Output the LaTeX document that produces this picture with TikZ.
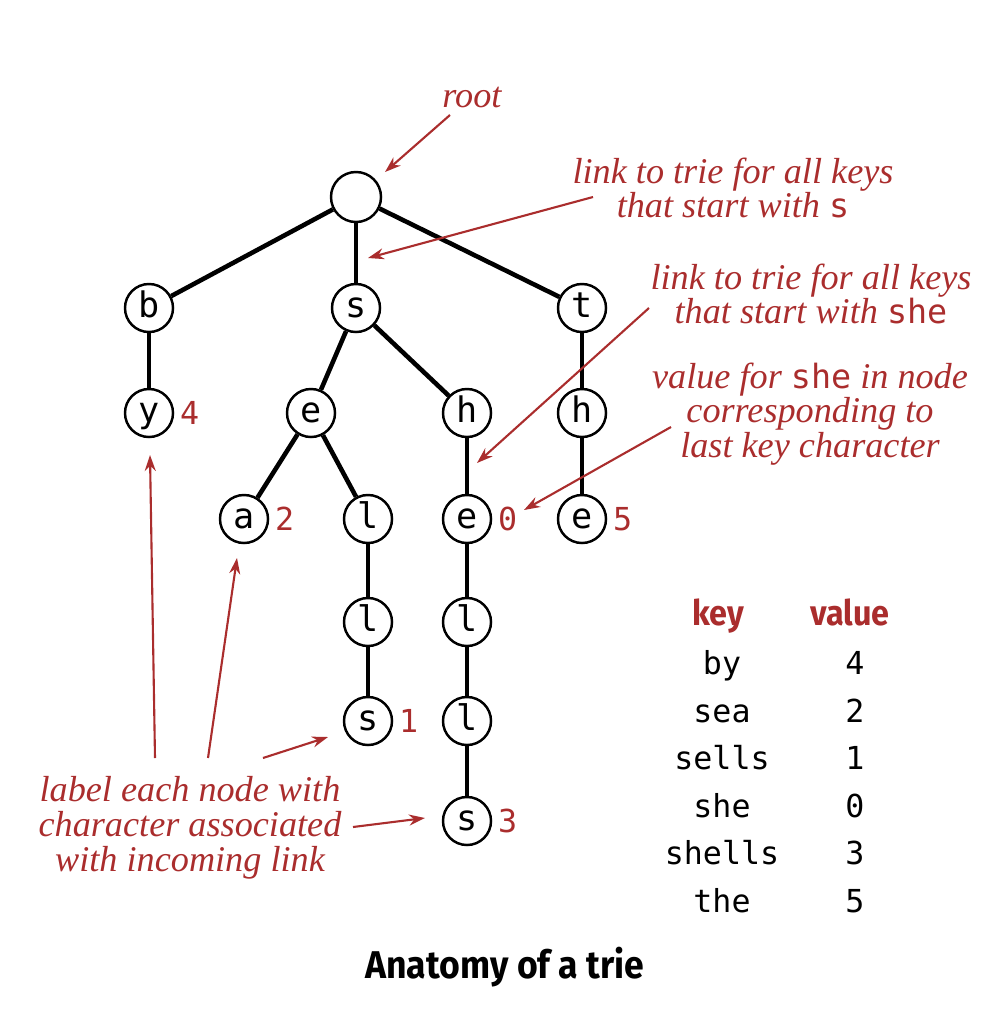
\documentclass[tikz,border=0pt]{standalone}
\usepackage{fontspec}
\usetikzlibrary{arrows.meta,positioning}
\newfontfamily\keyfont{DejaVu Sans Mono}
\newfontfamily\headfont[FakeStretch=0.92]{Fira Sans}
\newfontfamily\notefont{Liberation Serif}
\definecolor{annot}{RGB}{170,45,45}
\newcommand{\trkey}[1]{{\keyfont\upshape\fontsize{9.5}{9.5}\selectfont #1}}

\begin{document}
\begin{tikzpicture}[%
    x=0.01cm, y=-0.01cm,        % one unit is one pixel of the layout
    >={Stealth[length=1.6mm,width=1.1mm]}, % small pointer heads
    ]
% -------------------------------------------------
% Styles for the trie, the notes and the table
\tikzset{
  trie/.style={draw, circle, line width=0.7pt, fill=white, minimum size=4.8mm,
    inner sep=0pt, font={\keyfont\fontsize{10}{10}\selectfont},
    text height=0.75em, text depth=0.2em},
  rootnode/.style={trie, minimum size=5mm},
  link/.style={line width=1.3pt},
  val/.style={text=annot, inner sep=1.5pt, font={\keyfont\fontsize{9}{9}\selectfont}},
  note/.style={text=annot, align=center, font={\notefont\itshape\fontsize{10.3}{9.9}\selectfont}},
  pointer/.style={->, draw=annot, line width=0.6pt},
  cell/.style={anchor=base, font={\keyfont\fontsize{9}{9}\selectfont}},
  head/.style={anchor=base, text=annot, font={\headfont\bfseries\fontsize{10}{10}\selectfont}}
}
\useasboundingbox (0,0) rectangle (1004,1036);
% -------------------------------------------------
% The trie nodes
\node [rootnode] (root) at (356,197) {};
\node [trie] (b) at (149,308) {b};
\node [trie] (s) at (356,308) {s};
\node [trie] (t) at (582,308) {t};
\node [trie] (by) at (149,413) {y};
\node [trie] (se) at (311,413) {e};
\node [trie] (sh) at (467,413) {h};
\node [trie] (th) at (582,413) {h};
\node [trie] (sea) at (244,519) {a};
\node [trie] (sel) at (368,519) {l};
\node [trie] (she) at (467,519) {e};
\node [trie] (the) at (582,519) {e};
\node [trie] (sell) at (368,622) {l};
\node [trie] (shel) at (467,622) {l};
\node [trie] (sells) at (368,721) {s};
\node [trie] (shell) at (467,721) {l};
\node [trie] (shells) at (467,821) {s};
% links between nodes
\draw [link] (root) -- (b);
\draw [link] (root) -- (s);
\draw [link] (root) -- (t);
\draw [link] (b) -- (by);
\draw [link] (s) -- (se);
\draw [link] (s) -- (sh);
\draw [link] (t) -- (th);
\draw [link] (se) -- (sea);
\draw [link] (se) -- (sel);
\draw [link] (sh) -- (she);
\draw [link] (th) -- (the);
\draw [link] (sel) -- (sell);
\draw [link] (sell) -- (sells);
\draw [link] (she) -- (shel);
\draw [link] (shel) -- (shell);
\draw [link] (shell) -- (shells);
% values stored in the nodes
\node [val, right=0pt of by] (v4) {4};
\node [val, right=0pt of sea] (v2) {2};
\node [val, right=0pt of she] (v0) {0};
\node [val, right=0pt of the] (v5) {5};
\node [val, right=0pt of sells] (v1) {1};
\node [val, right=0pt of shells] (v3) {3};
% -------------------------------------------------
% Notes and their pointers
\node [note] (nroot) at (472,97) {root};
\node [note] (nlinks) at (733,188) {link to trie for all keys\\that start with \trkey{s}};
\node [note] (nlinkshe) at (811,294) {link to trie for all keys\\that start with \trkey{she}};
\node [note] (nvalue) at (810,414) {value for \trkey{she} in node\\corresponding to\\last key character};
\node [note] (nlabel) at (190,828) {label each node with\\character associated\\with incoming link};
\coordinate (rootFrom) at (450,115);   \coordinate (rootTo) at (385,172);
\coordinate (linksFrom) at (593,197);  \coordinate (linksTo) at (368,258);
\coordinate (sheFrom) at (649,308);    \coordinate (sheTo) at (477,463);
\coordinate (valFrom) at (671,427);    \coordinate (valTo) at (524,510);
\draw [pointer] (rootFrom) -- (rootTo);
\draw [pointer] (linksFrom) -- (linksTo);
\draw [pointer] (sheFrom) -- (sheTo);
\draw [pointer] (valFrom) -- (valTo);
\coordinate (lab1) at (155,758);  \coordinate (lab1To) at (150,455);
\coordinate (lab2) at (208,758);  \coordinate (lab2To) at (237,558);
\coordinate (lab3) at (263,758);  \coordinate (lab3To) at (328,737);
\coordinate (lab4) at (353,827);  \coordinate (lab4To) at (425,818);
\draw [pointer] (lab1) -- (lab1To);
\draw [pointer] (lab2) -- (lab2To);
\draw [pointer] (lab3) -- (lab3To);
\draw [pointer] (lab4) -- (lab4To);
% -------------------------------------------------
% Table of keys and values
\node [head] (hkey) at (718,625) {key};
\node [head] (hval) at (850,625) {value};
\foreach \k/\v [count=\i] in {by/4, sea/2, sells/1, she/0, shells/3, the/5} {
  \node [cell] (key\i) at (722,627+47.5*\i) {\k};
  \node [cell] (val\i) at (855,627+47.5*\i) {\v};
}
% caption
\node [font={\headfont\bfseries\fontsize{11}{11}\selectfont}] (title) at (505,967) {Anatomy of a trie};
\end{tikzpicture}
\end{document}
